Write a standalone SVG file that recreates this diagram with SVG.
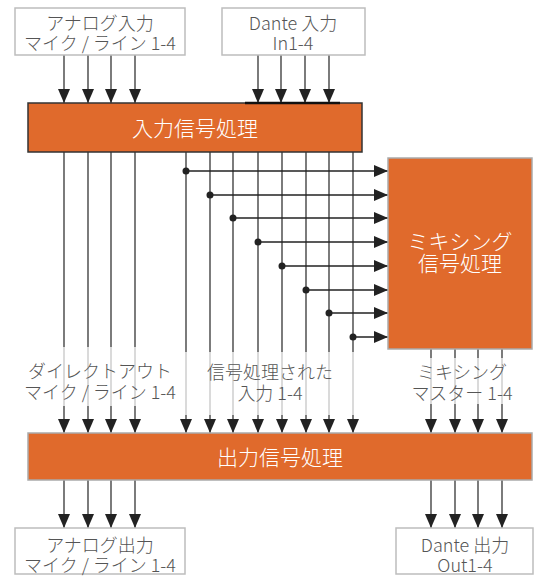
<svg xmlns="http://www.w3.org/2000/svg" width="544" height="576" viewBox="0 0 544 576">
<defs>
<style>
.box{fill:#fff;stroke:#bdbdbd;stroke-width:1.5}
.proc{fill:#E06A2C}
.lbl{font-family:"Noto Sans CJK JP","Noto Sans",sans-serif;font-weight:300;font-size:18px;fill:#555;text-anchor:middle}
.ptxt{font-family:"Noto Sans CJK JP","Noto Sans",sans-serif;font-weight:300;font-size:21px;fill:#fff;text-anchor:middle}
.v{stroke:#444;stroke-width:1.4;fill:none}
.h{stroke:#222;stroke-width:1.4;fill:none}
.dot{fill:#222}
</style>
<marker id="ah" markerUnits="userSpaceOnUse" markerWidth="14" markerHeight="12" viewBox="0 0 14 12" refX="14" refY="6" orient="auto">
<path d="M0,0 L14,6 L0,12 z" fill="#222"/>
</marker>
</defs>
<rect width="544" height="576" fill="#fff"/>

<g id="connectors">
<g marker-end="url(#ah)" class="v">
<line x1="64" y1="55" x2="64" y2="103"/>
<line x1="88" y1="55" x2="88" y2="103"/>
<line x1="111" y1="55" x2="111" y2="103"/>
<line x1="135" y1="55" x2="135" y2="103"/>
<line x1="258" y1="55" x2="258" y2="103"/>
<line x1="281" y1="55" x2="281" y2="103"/>
<line x1="305" y1="55" x2="305" y2="103"/>
<line x1="329" y1="55" x2="329" y2="103"/>

<line x1="64" y1="152" x2="64" y2="433"/>
<line x1="88" y1="152" x2="88" y2="433"/>
<line x1="111" y1="152" x2="111" y2="433"/>
<line x1="135" y1="152" x2="135" y2="433"/>
<line x1="186" y1="152" x2="186" y2="433"/>
<line x1="210" y1="152" x2="210" y2="433"/>
<line x1="233" y1="152" x2="233" y2="433"/>
<line x1="258" y1="152" x2="258" y2="433"/>
<line x1="282" y1="152" x2="282" y2="433"/>
<line x1="306" y1="152" x2="306" y2="433"/>
<line x1="329" y1="152" x2="329" y2="433"/>
<line x1="353" y1="152" x2="353" y2="433"/>

<line x1="431" y1="349" x2="431" y2="433"/>
<line x1="455" y1="349" x2="455" y2="433"/>
<line x1="478" y1="349" x2="478" y2="433"/>
<line x1="502" y1="349" x2="502" y2="433"/>

<line x1="64" y1="480" x2="64" y2="528"/>
<line x1="88" y1="480" x2="88" y2="528"/>
<line x1="111" y1="480" x2="111" y2="528"/>
<line x1="135" y1="480" x2="135" y2="528"/>
<line x1="431" y1="480" x2="431" y2="528"/>
<line x1="455" y1="480" x2="455" y2="528"/>
<line x1="478" y1="480" x2="478" y2="528"/>
<line x1="502" y1="480" x2="502" y2="528"/>
</g>
<g marker-end="url(#ah)" class="h">
<line x1="186" y1="171" x2="388" y2="171"/>
<line x1="210" y1="195" x2="388" y2="195"/>
<line x1="233" y1="218" x2="388" y2="218"/>
<line x1="258" y1="242" x2="388" y2="242"/>
<line x1="282" y1="266" x2="388" y2="266"/>
<line x1="306" y1="290" x2="388" y2="290"/>
<line x1="329" y1="313" x2="388" y2="313"/>
<line x1="353" y1="337" x2="388" y2="337"/>
</g>
<g class="dot">
<circle cx="186" cy="171" r="3.5"/>
<circle cx="210" cy="195" r="3.5"/>
<circle cx="233" cy="218" r="3.5"/>
<circle cx="258" cy="242" r="3.5"/>
<circle cx="282" cy="266" r="3.5"/>
<circle cx="306" cy="290" r="3.5"/>
<circle cx="329" cy="313" r="3.5"/>
<circle cx="353" cy="337" r="3.5"/>
</g>
</g>

<g id="label-bands" fill="#fff" fill-opacity="0.72">
<rect x="55" y="347" width="90" height="59"/>
<rect x="180" y="352" width="180" height="63"/>
<rect x="425" y="358" width="84" height="46"/>
</g>

<g id="analog-in">
<rect class="box" x="15" y="8" width="170" height="47"/>
<text class="lbl" x="100" y="30">アナログ入力</text>
<text class="lbl" x="100" y="50">マイク / ライン 1-4</text>
</g>

<g id="dante-in">
<rect class="box" x="222" y="8" width="143" height="47"/>
<text class="lbl" x="293" y="30">Dante 入力</text>
<text class="lbl" x="293" y="50">In1-4</text>
</g>

<g id="input-proc">
<rect class="proc" x="28" y="103" width="334" height="49" stroke="#333" stroke-width="1.5"/>
<line x1="245" y1="103" x2="340" y2="103" stroke="#111" stroke-width="2.5"/>
<text class="ptxt" x="195" y="136">入力信号処理</text>
</g>

<g id="mixing-proc">
<rect class="proc" x="388" y="158" width="144" height="191" stroke="#aaa" stroke-width="1.5"/>
<text class="ptxt" x="460" y="249">ミキシング</text>
<text class="ptxt" x="460" y="271">信号処理</text>
</g>

<g id="label-direct">
<text class="lbl" x="100" y="378">ダイレクトアウト</text>
<text class="lbl" x="100" y="399">マイク / ライン 1-4</text>
</g>
<g id="label-processed">
<text class="lbl" x="270" y="379">信号処理された</text>
<text class="lbl" x="270" y="400">入力 1-4</text>
</g>
<g id="label-master">
<text class="lbl" x="462" y="379">ミキシング</text>
<text class="lbl" x="462" y="400">マスター 1-4</text>
</g>

<g id="output-proc">
<rect class="proc" x="28" y="433" width="504" height="47" stroke="#aaa" stroke-width="1.5"/>
<text class="ptxt" x="280" y="465">出力信号処理</text>
</g>

<g id="analog-out">
<rect class="box" x="15" y="528" width="170" height="46"/>
<text class="lbl" x="100" y="552">アナログ出力</text>
<text class="lbl" x="100" y="572">マイク / ライン 1-4</text>
</g>

<g id="dante-out">
<rect class="box" x="396" y="528" width="137" height="46"/>
<text class="lbl" x="465" y="552">Dante 出力</text>
<text class="lbl" x="465" y="572">Out1-4</text>
</g>
</svg>
